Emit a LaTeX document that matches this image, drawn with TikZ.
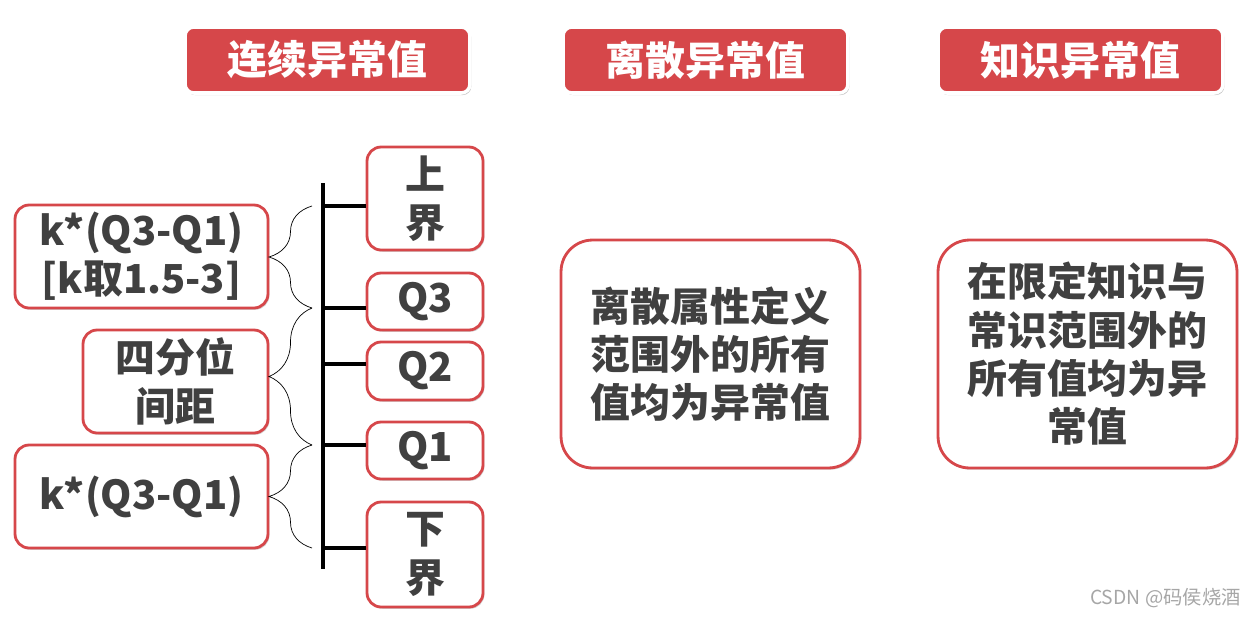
\documentclass[tikz,border=0pt]{standalone}
\usepackage{fontspec}
\setmainfont{Noto Sans CJK SC}
\usetikzlibrary{decorations.pathreplacing,shadows}
\definecolor{boxred}{HTML}{D6474A}
\definecolor{txtgray}{HTML}{404040}
\tikzset{
  head/.style={draw=white, line width=2pt, fill=boxred, rounded corners=5pt, text=white, inner sep=0pt,
    font=\fontsize{22.7}{27.5}\selectfont\bfseries, minimum width=5.7cm, minimum height=1.32cm,
    drop shadow={opacity=0.45,shadow xshift=0.8pt,shadow yshift=-1.2pt}},
  item/.style={draw=boxred, line width=1.6pt, fill=white, rounded corners=8pt, text=txtgray, inner sep=0pt,
    align=center, font=\fontsize{22.7}{27.5}\selectfont\bfseries, minimum width=2.32cm,
    drop shadow={opacity=0.35,shadow xshift=0.8pt,shadow yshift=-1pt}},
  bigitem/.style={item, rounded corners=18pt, minimum width=5.98cm, minimum height=4.56cm},
  tick/.style={line width=2.2pt, black},
  curly/.style={thin, black, decorate, decoration={brace,amplitude=0.86cm}}
}
\begin{document}
\begin{tikzpicture}[x=0.02cm,y=-0.02cm]
  \useasboundingbox (0,0) rectangle (1257,616);
  % headers
  \node[head] (hcont) at (327.5,60) {连续异常值};
  \node[head] (hdisc) at (705.5,60) {离散异常值};
  \node[head] (hknow) at (1080.5,60) {知识异常值};
  % quartile axis
  \coordinate (axtop) at (323,183);
  \coordinate (axbot) at (323,569);
  \coordinate (t1) at (323,206);
  \coordinate (t2) at (323,308);
  \coordinate (t3) at (323,364);
  \coordinate (t4) at (323,445);
  \coordinate (t5) at (323,548);
  \draw[tick] (axtop) -- (axbot);
  \node[item, minimum height=2.06cm] (upper) at (425,198.5) {上\\界};
  \node[item, minimum height=1.14cm] (qthree) at (425,301.5) {Q3};
  \node[item, minimum height=1.16cm] (qtwo) at (425,371) {Q2};
  \node[item, minimum height=1.14cm] (qone) at (425,450.5) {Q1};
  \node[item, minimum height=2.1cm] (lower) at (425,554.5) {下\\界};
  \draw[tick] (t1) -- (t1 -| upper.west);
  \draw[tick] (t2) -- (t2 -| qthree.west);
  \draw[tick] (t3) -- (t3 -| qtwo.west);
  \draw[tick] (t4) -- (t4 -| qone.west);
  \draw[tick] (t5) -- (t5 -| lower.west);
  % ranges
  \node[item, minimum width=5.06cm, minimum height=2.06cm] (kup) at (141.5,256.5) {k*(Q3-Q1)\\{}[k取1.5-3]};
  \node[item, minimum width=3.7cm, minimum height=2.06cm] (iqr) at (175.5,381.5) {四分位\\间距};
  \node[item, minimum width=5.06cm, minimum height=2.06cm] (klow) at (141.5,496.5) {k*(Q3-Q1)};
  \draw[curly] ([xshift=-0.22cm]t2) -- ([xshift=-0.22cm]t1);
  \draw[curly] ([xshift=-0.22cm]t4) -- ([xshift=-0.22cm]t2);
  \draw[curly] ([xshift=-0.22cm]t5) -- ([xshift=-0.22cm]t4);
  % definitions
  \node[bigitem] (disc) at (710.5,354) {离散属性定义\\范围外的所有\\值均为异常值};
  \node[bigitem] (know) at (1087.5,354) {在限定知识与\\常识范围外的\\所有值均为异\\常值};
  % watermark
  \node[anchor=east, text=gray!70, font=\fontsize{11}{13}\selectfont, inner sep=0pt] (mark) at (1241,598) {CSDN @码侯烧酒};
\end{tikzpicture}
\end{document}
